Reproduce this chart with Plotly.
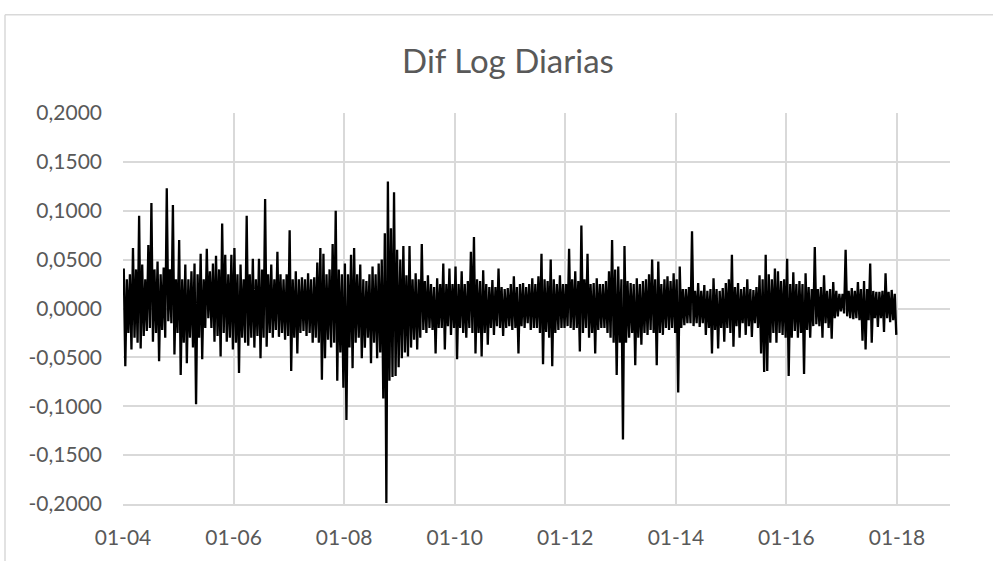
import numpy as np
import pandas as pd
import plotly.graph_objects as go

# ---- data: daily log differences (36 samples per year) ----
v2004 = [0.041, -0.059, 0.030, -0.025, 0.035, -0.042, 0.062, -0.030, 0.040, -0.035, 0.095, -0.041,
         0.045, -0.028, 0.030, -0.023, 0.065, -0.020, 0.108, -0.034, 0.040, -0.025, 0.048, -0.054,
         0.035, -0.022, 0.042, -0.030, 0.123, -0.013, 0.040, -0.015, 0.106, -0.047, 0.030, -0.025]
v2005 = [0.070, -0.068, 0.030, -0.035, 0.045, -0.056, 0.030, -0.030, 0.038, -0.040, 0.046, -0.098,
         0.035, -0.030, 0.056, -0.052, 0.030, -0.020, 0.061, -0.010, 0.038, -0.020, 0.046, -0.034,
         0.054, -0.028, 0.040, -0.049, 0.087, -0.025, 0.055, -0.034, 0.035, -0.030, 0.055, -0.042]
v2006 = [0.062, -0.035, 0.035, -0.066, 0.045, -0.030, 0.030, -0.035, 0.095, -0.038, 0.035, -0.030,
         0.051, -0.040, 0.030, -0.028, 0.051, -0.051, 0.040, -0.030, 0.112, -0.039, 0.035, -0.025,
         0.045, -0.030, 0.030, -0.022, 0.058, -0.029, 0.035, -0.025, 0.030, -0.032, 0.035, -0.028]
v2007 = [0.080, -0.064, 0.030, -0.030, 0.038, -0.046, 0.030, -0.025, 0.032, -0.023, 0.030, -0.028,
         0.036, -0.025, 0.030, -0.035, 0.032, -0.030, 0.047, -0.035, 0.062, -0.073, 0.056, -0.051,
         0.035, -0.032, 0.040, -0.040, 0.066, -0.035, 0.100, -0.074, 0.040, -0.045, 0.035, -0.081]
v2008 = [0.046, -0.114, 0.035, -0.040, 0.055, -0.061, 0.062, -0.035, 0.035, -0.030, 0.045, -0.051,
         0.030, -0.040, 0.028, -0.030, 0.035, -0.056, 0.043, -0.035, 0.035, -0.051, 0.046, -0.045,
         0.050, -0.092, 0.077, -0.199, 0.130, -0.074, 0.082, -0.070, 0.119, -0.069, 0.060, -0.060]
v2009 = [0.050, -0.051, 0.064, -0.045, 0.034, -0.049, 0.064, -0.040, 0.030, -0.032, 0.036, -0.042,
         0.030, -0.030, 0.066, -0.022, 0.028, -0.025, 0.034, -0.020, 0.025, -0.022, 0.022, -0.046,
         0.031, -0.020, 0.025, -0.020, 0.046, -0.042, 0.025, -0.018, 0.041, -0.027, 0.025, -0.020]
v2010 = [0.043, -0.052, 0.025, -0.020, 0.038, -0.025, 0.025, -0.030, 0.028, -0.020, 0.058, -0.025,
         0.073, -0.046, 0.030, -0.025, 0.028, -0.049, 0.039, -0.025, 0.025, -0.037, 0.022, -0.020,
         0.029, -0.027, 0.022, -0.018, 0.041, -0.020, 0.022, -0.028, 0.020, -0.020, 0.021, -0.018]
v2011 = [0.025, -0.022, 0.033, -0.020, 0.022, -0.046, 0.025, -0.018, 0.026, -0.020, 0.022, -0.015,
         0.025, -0.022, 0.031, -0.020, 0.025, -0.020, 0.033, -0.025, 0.056, -0.057, 0.030, -0.024,
         0.028, -0.030, 0.050, -0.059, 0.030, -0.025, 0.025, -0.022, 0.034, -0.020, 0.025, -0.020]
v2012 = [0.025, -0.018, 0.061, -0.020, 0.030, -0.022, 0.038, -0.020, 0.028, -0.044, 0.085, -0.025,
         0.030, -0.020, 0.056, -0.030, 0.025, -0.025, 0.026, -0.046, 0.031, -0.022, 0.025, -0.020,
         0.025, -0.020, 0.028, -0.025, 0.038, -0.030, 0.070, -0.035, 0.040, -0.068, 0.043, -0.035]
v2013 = [0.030, -0.134, 0.064, -0.035, 0.028, -0.030, 0.026, -0.025, 0.025, -0.058, 0.031, -0.030,
         0.025, -0.037, 0.028, -0.025, 0.030, -0.027, 0.035, -0.022, 0.050, -0.025, 0.030, -0.058,
         0.048, -0.025, 0.025, -0.027, 0.030, -0.020, 0.033, -0.022, 0.028, -0.020, 0.036, -0.025]
v2014 = [0.030, -0.086, 0.043, -0.020, 0.020, -0.017, 0.020, -0.015, 0.022, -0.015, 0.079, -0.018,
         0.018, -0.015, 0.026, -0.019, 0.018, -0.015, 0.024, -0.027, 0.018, -0.020, 0.020, -0.046,
         0.031, -0.022, 0.020, -0.041, 0.018, -0.020, 0.021, -0.034, 0.026, -0.020, 0.030, -0.025]
v2015 = [0.055, -0.039, 0.022, -0.018, 0.026, -0.030, 0.020, -0.015, 0.022, -0.027, 0.030, -0.018,
         0.020, -0.029, 0.019, -0.015, 0.022, -0.020, 0.034, -0.046, 0.030, -0.065, 0.055, -0.064,
         0.035, -0.035, 0.030, -0.025, 0.041, -0.035, 0.038, -0.025, 0.028, -0.027, 0.030, -0.030]
v2016 = [0.051, -0.069, 0.025, -0.030, 0.037, -0.023, 0.025, -0.030, 0.028, -0.025, 0.025, -0.067,
         0.036, -0.022, 0.022, -0.030, 0.020, -0.018, 0.063, -0.016, 0.020, -0.018, 0.022, -0.030,
         0.034, -0.015, 0.018, -0.020, 0.020, -0.031, 0.027, -0.010, 0.018, -0.008, 0.015, -0.003]
v2017 = [0.015, -0.005, 0.060, -0.008, 0.018, -0.010, 0.021, -0.011, 0.018, -0.010, 0.027, -0.012,
         0.020, -0.033, 0.028, -0.042, 0.020, -0.012, 0.046, -0.035, 0.018, -0.010, 0.017, -0.019,
         0.017, -0.010, 0.018, -0.024, 0.036, -0.010, 0.017, -0.014, 0.019, -0.012, 0.015, -0.027]

years = list(range(2004, 2018))
yearly_values = [v2004, v2005, v2006, v2007, v2008, v2009, v2010,
                 v2011, v2012, v2013, v2014, v2015, v2016, v2017]

y_tick_vals = [0.20, 0.15, 0.10, 0.05, 0.0, -0.05, -0.10, -0.15, -0.20]
y_tick_text = ["0,2000", "0,1500", "0,1000", "0,0500", "0,0000",
               "-0,0500", "-0,1000", "-0,1500", "-0,2000"]
x_tick_vals = ["2004-01-01", "2006-01-01", "2008-01-01", "2010-01-01",
               "2012-01-01", "2014-01-01", "2016-01-01", "2018-01-01"]
x_tick_text = ["01-04", "01-06", "01-08", "01-10", "01-12", "01-14", "01-16", "01-18"]
title_text = "Dif Log Diarias"

# ---- build series ----
dates, values = [], []
for yr, vals in zip(years, yearly_values):
    start = pd.Timestamp(yr, 1, 1)
    n = len(vals)
    for i, v in enumerate(vals):
        dates.append(start + pd.Timedelta(days=(i + 0.5) / n * 365.25))
        values.append(v)

FONT = "Lato"
GRID = "#d9d9d9"
TXT = "#595959"

fig = go.Figure()
fig.add_trace(go.Scatter(x=dates, y=values, mode="lines",
                         line=dict(color="black", width=2.3), showlegend=False,
                         hoverinfo="skip"))

W, H = 993, 561
L, R, T, B = 123, 43, 113, 54
pw, ph = W - L - R, H - T - B

fig.update_layout(
    width=W, height=H,
    margin=dict(l=L, r=R, t=T, b=B),
    paper_bgcolor="white", plot_bgcolor="white",
    title=dict(text=title_text, x=508 / W, xanchor="center", xref="container",
               y=1 - 61 / H, yanchor="middle",
               font=dict(family=FONT, size=33, color=TXT)),
    font=dict(family=FONT, color=TXT),
)
fig.update_xaxes(
    type="date", range=["2004-01-01", "2018-12-17"],
    tickmode="array", tickvals=x_tick_vals, ticktext=x_tick_text,
    showgrid=True, gridcolor=GRID, gridwidth=1.5,
    showline=True, linecolor=GRID, linewidth=1.5,
    ticks="", ticklabelstandoff=14,
    tickfont=dict(family=FONT, size=21, color=TXT),
    zeroline=False,
)
fig.update_yaxes(
    range=[-0.2, 0.2],
    tickmode="array", tickvals=y_tick_vals, ticktext=y_tick_text,
    showgrid=True, gridcolor=GRID, gridwidth=1.5,
    zeroline=True, zerolinecolor=GRID, zerolinewidth=1.5,
    showline=False, ticks="", ticklabelstandoff=20,
    tickfont=dict(family=FONT, size=21, color=TXT),
)

# outer chart-area border (top and left edges visible in the crop)
bx = (5 - L) / pw
by = (H - B - 14) / ph
fig.add_shape(type="line", xref="paper", yref="paper", x0=bx, x1=2, y0=by, y1=by,
              line=dict(color=GRID, width=1.5), layer="below")
fig.add_shape(type="line", xref="paper", yref="paper", x0=bx, x1=bx, y0=by, y1=-1,
              line=dict(color=GRID, width=1.5), layer="below")

fig.write_html("out.html")
